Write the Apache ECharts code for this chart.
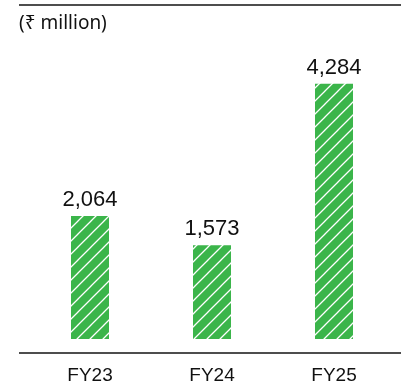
<!DOCTYPE html>
<html>
<head>
<meta charset="utf-8">
<script src="https://cdn.jsdelivr.net/npm/echarts@6/dist/echarts.min.js"></script>
<style>
  html, body { margin: 0; padding: 0; background: #fff; }
  #chart { width: 401px; height: 385px; }
</style>
</head>
<body>
<div id="chart"></div>
<script>
// Chart data
var categories = ['FY23', 'FY24', 'FY25'];
var values = [2064, 1573, 4284];
var unitLabel = '(\u20B9 million)';

var NUM_FONT = '"Liberation Sans", Arial, sans-serif';
var TITLE_FONT = '"Noto Sans", "Open Sans", sans-serif';

// Green fill with white diagonal hatching
function hatchPattern() {
  var s = 13;
  var c = document.createElement('canvas');
  c.width = s; c.height = s;
  var ctx = c.getContext('2d');
  ctx.fillStyle = '#3bb54a';
  ctx.fillRect(0, 0, s, s);
  ctx.strokeStyle = '#ffffff';
  ctx.lineWidth = 1.3;
  ctx.beginPath();
  ctx.moveTo(-2, s + 2); ctx.lineTo(s + 2, -2);
  ctx.moveTo(-2 - s, s + 2); ctx.lineTo(2, -2);
  ctx.moveTo(s - 2, s + 2); ctx.lineTo(2 * s + 2, -2);
  ctx.stroke();
  return { image: c, repeat: 'repeat' };
}

var chart = echarts.init(document.getElementById('chart'), null, { renderer: 'canvas' });

chart.setOption({
  animation: false,
  backgroundColor: '#ffffff',
  grid: { left: 29, right: 6, top: 41, bottom: 42, containLabel: false },
  xAxis: {
    type: 'category',
    data: categories,
    axisLine: { show: false },
    axisTick: { show: false },
    axisLabel: { color: '#111111', fontSize: 19, fontFamily: NUM_FONT, margin: 27 }
  },
  yAxis: {
    type: 'value',
    min: 0,
    max: 5000,
    show: false,
    splitLine: { show: false }
  },
  series: [{
    type: 'bar',
    data: values,
    barWidth: 38,
    itemStyle: { color: hatchPattern() },
    label: {
      show: true,
      position: 'top',
      distance: 5,
      color: '#111111',
      fontSize: 22,
      fontFamily: NUM_FONT,
      formatter: function (p) { return p.value.toLocaleString('en-US'); }
    }
  }],
  graphic: [
    { type: 'line', shape: { x1: 19, y1: 5, x2: 401, y2: 5 }, style: { stroke: '#4d4d4d', lineWidth: 2 } },
    { type: 'line', shape: { x1: 19, y1: 353, x2: 401, y2: 353 }, style: { stroke: '#4d4d4d', lineWidth: 2 } },
    { type: 'text', x: 19, y: 24, style: { text: unitLabel, fill: '#111111', font: '19px ' + TITLE_FONT, verticalAlign: 'middle' } }
  ]
});
</script>
</body>
</html>
